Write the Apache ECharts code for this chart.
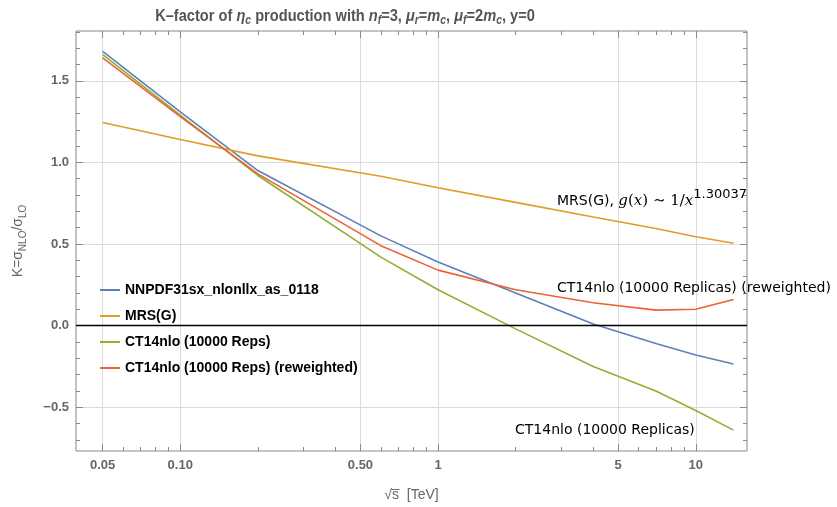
<!DOCTYPE html>
<html><head><meta charset="utf-8">
<script src="https://cdn.jsdelivr.net/npm/echarts@6/dist/echarts.min.js"></script>
<style>html,body{margin:0;padding:0;background:#fff}#c{width:837px;height:507px}</style>
</head><body><div id="c"></div>
<script>
// ---- data ----
const energies = [0.05, 0.1, 0.2, 0.6, 1, 2, 4, 7, 10, 14];
const nnpdf   = [1.68, 1.31, 0.95, 0.55, 0.39, 0.20, 0.01, -0.11, -0.18, -0.235];
const mrs     = [1.245, 1.14, 1.04, 0.915, 0.845, 0.755, 0.665, 0.595, 0.545, 0.505];
const ct14    = [1.66, 1.29, 0.92, 0.42, 0.22, -0.02, -0.25, -0.40, -0.52, -0.64];
const ct14rw  = [1.64, 1.28, 0.93, 0.49, 0.34, 0.22, 0.14, 0.095, 0.10, 0.16];
const seriesNames = ['NNPDF31sx_nlonllx_as_0118', 'MRS(G)', 'CT14nlo (10000 Reps)', 'CT14nlo (10000 Reps) (reweighted)'];
const seriesColors = ['#5E81B5', '#E19C24', '#8FB032', '#EB6235'];

// ---- ticks ----
const xMajorTicks  = [0.05, 0.1, 0.5, 1, 5, 10];
const xMajorLabels = ['0.05', '0.10', '0.50', '1', '5', '10'];
const xMinorTicks  = [0.06, 0.07, 0.08, 0.09, 0.2, 0.3, 0.4, 0.6, 0.7, 0.8, 0.9, 2, 3, 4, 6, 7, 8, 9];
const yMajorTicks  = [-0.5, 0, 0.5, 1, 1.5];
const yMajorLabels = ['\u22120.5', '0.0', '0.5', '1.0', '1.5'];
const yMinorTicks  = [-0.7, -0.6, -0.4, -0.3, -0.2, -0.1, 0.1, 0.2, 0.3, 0.4, 0.6, 0.7, 0.8, 0.9, 1.1, 1.2, 1.3, 1.4, 1.6, 1.7, 1.8];
const X_MIN = 0.0394, X_MAX = 15.8, Y_MIN = -0.768, Y_MAX = 1.805;

const chart = echarts.init(document.getElementById('c'), null, {renderer: 'canvas'});
const tickColor = '#8a8a8a';
const labelFont = {color: '#666', fontWeight: 'bold', fontSize: 13, fontFamily: '"Liberation Sans", Arial, sans-serif'};

function xAxisDef(pos, ticks, len, withLabels) {
  return {
    type: 'log', logBase: 10, min: X_MIN, max: X_MAX, position: pos, gridIndex: 0,
    axisLine: {show: false, onZero: false},
    axisTick: {show: true, inside: true, length: len, customValues: ticks, lineStyle: {color: tickColor, width: 1}},
    axisLabel: withLabels ? Object.assign({show: true, customValues: xMajorTicks, margin: 8,
      formatter: v => { const i = xMajorTicks.findIndex(t => Math.abs(t - v) / t < 1e-6); return i >= 0 ? xMajorLabels[i] : ''; }}, labelFont) : {show: false},
    splitLine: {show: withLabels, lineStyle: {color: '#dcdcdc', width: 1}},
    minorTick: {show: false}, minorSplitLine: {show: false}
  };
}
function yAxisDef(pos, ticks, len, withLabels) {
  return {
    type: 'value', min: Y_MIN, max: Y_MAX, position: pos, gridIndex: 0,
    axisLine: {show: false, onZero: false},
    axisTick: {show: true, inside: true, length: len, customValues: ticks, lineStyle: {color: tickColor, width: 1}},
    axisLabel: withLabels ? Object.assign({show: true, customValues: yMajorTicks, margin: 7,
      formatter: v => { const i = yMajorTicks.findIndex(t => Math.abs(t - v) < 1e-6); return i >= 0 ? yMajorLabels[i] : ''; }}, labelFont) : {show: false},
    splitLine: {show: withLabels, lineStyle: {color: '#dcdcdc', width: 1}},
    minorTick: {show: false}, minorSplitLine: {show: false}
  };
}

const xAxes = [
  xAxisDef('bottom', xMajorTicks, 7, true),
  xAxisDef('bottom', xMinorTicks, 4, false),
  xAxisDef('top', xMajorTicks, 7, false),
  xAxisDef('top', xMinorTicks, 4, false)
];
xAxes[0].name = '\u221As\u0305  [TeV]';
xAxes[0].nameLocation = 'middle';
xAxes[0].nameGap = 37;
xAxes[0].nameTextStyle = {color: '#666', fontSize: 14, fontFamily: '"Liberation Sans", Arial, sans-serif'};

const yAxes = [
  yAxisDef('left', yMajorTicks, 7, true),
  yAxisDef('left', yMinorTicks, 4, false),
  yAxisDef('right', yMajorTicks, 7, false),
  yAxisDef('right', yMinorTicks, 4, false)
];
yAxes[0].name = 'K=\u03C3{s|NLO}/\u03C3{s|LO}';
yAxes[0].nameLocation = 'middle';
yAxes[0].nameRotate = 90;
yAxes[0].nameGap = 48;
yAxes[0].nameTextStyle = {color: '#666', fontSize: 14, lineHeight: 20, fontFamily: '"Liberation Sans", Arial, sans-serif',
  rich: {s: {fontSize: 10, lineHeight: 12, verticalAlign: 'bottom', color: '#666', fontFamily: '"Liberation Sans", Arial, sans-serif'}}};

const allY = [nnpdf, mrs, ct14, ct14rw];
const series = allY.map((vals, k) => ({
  name: seriesNames[k], type: 'line', xAxisIndex: 0, yAxisIndex: 0,
  data: energies.map((e, i) => [e, vals[i]]),
  showSymbol: false, symbol: 'none', smooth: false, animation: false,
  lineStyle: {color: seriesColors[k], width: 1.6}, itemStyle: {color: seriesColors[k]},
  z: 3
}));
series[0].markLine = {silent: true, symbol: ['none', 'none'], label: {show: false}, animation: false,
  lineStyle: {color: '#000', width: 1.4, type: 'solid'}, data: [{yAxis: 0}]};

const titleFont = '"Liberation Sans Narrow", "Liberation Sans", Arial, sans-serif';
const annFont = '"DejaVu Sans", sans-serif';
const mathFont = '"DejaVu Serif", serif';

chart.setOption({
  animation: false,
  backgroundColor: '#fff',
  grid: {left: 65, right: 90, top: 31, bottom: 54, show: true, borderColor: '#888', borderWidth: 1, backgroundColor: 'transparent'},
  xAxis: xAxes,
  yAxis: yAxes,
  legend: {
    data: seriesNames, orient: 'vertical', left: 95, top: 278, itemGap: 12,
    icon: 'rect', itemWidth: 20, itemHeight: 2,
    textStyle: {color: '#000', fontWeight: 'bold', fontSize: 14, fontFamily: '"Liberation Sans", Arial, sans-serif'},
    selectedMode: false
  },
  series: series,
  graphic: [
    {type: 'text', x: 345, y: 16, scaleX: 0.86, z: 10, style: {
      x: 0, y: 0, align: 'center', verticalAlign: 'middle',
      text: '{n|K\u2013factor of }{i|\u03B7}{s|c}{n| production with }{i|n}{s|f}{n|=3, }{i|\u03BC}{s|r}{n|=}{i|m}{s|c}{n|, }{i|\u03BC}{s|f}{n|=2}{i|m}{s|c}{n|, y=0}',
      rich: {
        n: {fontSize: 17, fontWeight: 'bold', fill: '#555', fontFamily: titleFont, lineHeight: 22},
        i: {fontSize: 17, fontWeight: 'bold', fontStyle: 'italic', fill: '#555', fontFamily: titleFont, lineHeight: 22},
        s: {fontSize: 12, fontWeight: 'bold', fontStyle: 'italic', fill: '#555', fontFamily: titleFont, lineHeight: 12, verticalAlign: 'bottom'}
      }
    }},
    {type: 'text', x: 557, y: 201, z: 10, style: {
      text: '{n|MRS(G), }{i|g}{m|(}{i|x}{m|) \u223C 1/}{i|x}{p|1.30037}',
      verticalAlign: 'middle',
      rich: {
        n: {fontSize: 14, fill: '#000', fontFamily: annFont, lineHeight: 26},
        m: {fontSize: 15, fill: '#000', fontFamily: mathFont, lineHeight: 26},
        i: {fontSize: 15, fontStyle: 'italic', fill: '#000', fontFamily: mathFont, lineHeight: 26},
        p: {fontSize: 13, fill: '#000', fontFamily: annFont, lineHeight: 14, verticalAlign: 'top'}
      }
    }},
    {type: 'text', x: 557, y: 288, z: 10, style: {text: 'CT14nlo (10000 Replicas) (reweighted)', font: '14px ' + annFont, fill: '#000', verticalAlign: 'middle'}},
    {type: 'text', x: 515, y: 430, z: 10, style: {text: 'CT14nlo (10000 Replicas)', font: '14px ' + annFont, fill: '#000', verticalAlign: 'middle'}}
  ]
});
</script></body></html>
